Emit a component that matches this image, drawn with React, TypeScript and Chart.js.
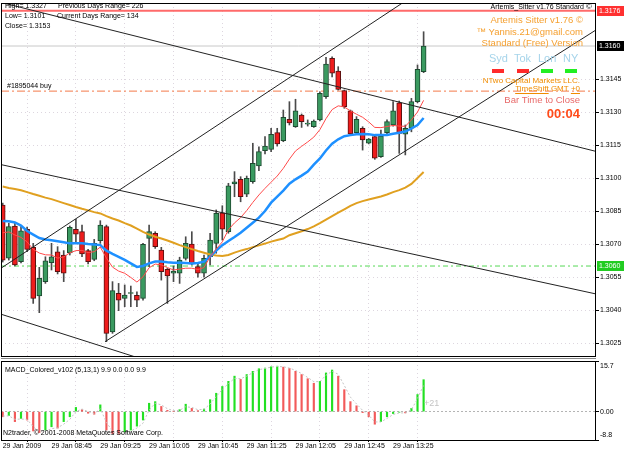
import React, { useEffect, useRef } from 'react';
import { Chart, registerables } from 'chart.js';
Chart.register(...registerables);

const FONT = '"Liberation Sans", Arial, sans-serif';

const timeLabels = ['29 Jan 2009', '29 Jan 08:45', '29 Jan 09:25', '29 Jan 10:05', '29 Jan 10:45', '29 Jan 11:25', '29 Jan 12:05', '29 Jan 12:45', '29 Jan 13:25'];
const timeLabelBars = [0, 8, 16, 24, 32, 40, 48, 56, 64];

const opens = [1.30877, 1.30636, 1.30782, 1.30620, 1.30767, 1.30685, 1.30464, 1.30529, 1.30615, 1.30665, 1.30650, 1.30660, 1.30767, 1.30756, 1.30670, 1.30630, 1.30715, 1.30779, 1.30301, 1.30476, 1.30453, 1.30475, 1.30467, 1.30453, 1.30726, 1.30749, 1.30673, 1.30585, 1.30567, 1.30567, 1.30635, 1.30700, 1.30597, 1.30567, 1.30642, 1.30703, 1.30842, 1.30756, 1.30973, 1.30994, 1.30927, 1.30983, 1.31055, 1.31124, 1.31130, 1.31206, 1.31170, 1.31267, 1.31233, 1.31286, 1.31245, 1.31233, 1.31264, 1.31370, 1.31544, 1.31486, 1.31397, 1.31305, 1.31206, 1.31226, 1.31158, 1.31188, 1.31097, 1.31206, 1.31241, 1.31342, 1.31199, 1.31226, 1.31347, 1.31483];
const highs = [1.30886, 1.30795, 1.30797, 1.30779, 1.30777, 1.30703, 1.30594, 1.30642, 1.30703, 1.30688, 1.30670, 1.30782, 1.30812, 1.30786, 1.30676, 1.30721, 1.30806, 1.30786, 1.30529, 1.30521, 1.30514, 1.30509, 1.30483, 1.30703, 1.30786, 1.30756, 1.30685, 1.30589, 1.30600, 1.30640, 1.30733, 1.30756, 1.30609, 1.30650, 1.30749, 1.30855, 1.30874, 1.30976, 1.31029, 1.31006, 1.31009, 1.31158, 1.31142, 1.31188, 1.31226, 1.31226, 1.31309, 1.31347, 1.31358, 1.31291, 1.31264, 1.31264, 1.31392, 1.31549, 1.31551, 1.31506, 1.31400, 1.31309, 1.31279, 1.31233, 1.31180, 1.31195, 1.31218, 1.31264, 1.31347, 1.31350, 1.31241, 1.31362, 1.31514, 1.31665];
const lows = [1.30618, 1.30627, 1.30600, 1.30614, 1.30665, 1.30430, 1.30388, 1.30521, 1.30582, 1.30564, 1.30529, 1.30650, 1.30706, 1.30642, 1.30609, 1.30624, 1.30703, 1.30256, 1.30294, 1.30397, 1.30415, 1.30415, 1.30415, 1.30445, 1.30597, 1.30680, 1.30536, 1.30430, 1.30529, 1.30521, 1.30627, 1.30605, 1.30549, 1.30549, 1.30605, 1.30658, 1.30718, 1.30749, 1.30915, 1.30892, 1.30915, 1.30976, 1.31033, 1.31109, 1.31120, 1.31145, 1.31165, 1.31241, 1.31230, 1.31230, 1.31236, 1.31230, 1.31259, 1.31362, 1.31460, 1.31400, 1.31317, 1.31195, 1.31203, 1.31127, 1.31155, 1.31085, 1.31094, 1.31200, 1.31236, 1.31112, 1.31105, 1.31210, 1.31342, 1.31479];
const closes = [1.30627, 1.30779, 1.30605, 1.30760, 1.30676, 1.30453, 1.30544, 1.30624, 1.30642, 1.30574, 1.30567, 1.30776, 1.30745, 1.30655, 1.30620, 1.30703, 1.30786, 1.30294, 1.30488, 1.30445, 1.30468, 1.30476, 1.30445, 1.30699, 1.30756, 1.30688, 1.30574, 1.30555, 1.30577, 1.30627, 1.30703, 1.30609, 1.30567, 1.30635, 1.30718, 1.30840, 1.30767, 1.30965, 1.30983, 1.30915, 1.30999, 1.31067, 1.31120, 1.31145, 1.31199, 1.31155, 1.31276, 1.31250, 1.31305, 1.31256, 1.31246, 1.31259, 1.31385, 1.31518, 1.31476, 1.31403, 1.31324, 1.31200, 1.31267, 1.31173, 1.31177, 1.31090, 1.31191, 1.31256, 1.31305, 1.31203, 1.31226, 1.31347, 1.31494, 1.31600];

const maFast = [1.30751, 1.30755, 1.30741, 1.30730, 1.30710, 1.30676, 1.30659, 1.30651, 1.30650, 1.30636, 1.30641, 1.30660, 1.30670, 1.30671, 1.30661, 1.30665, 1.30686, 1.30636, 1.30595, 1.30577, 1.30567, 1.30548, 1.30527, 1.30551, 1.30592, 1.30609, 1.30605, 1.30593, 1.30582, 1.30586, 1.30590, 1.30590, 1.30584, 1.30593, 1.30642, 1.30677, 1.30710, 1.30765, 1.30796, 1.30820, 1.30852, 1.30889, 1.30923, 1.30953, 1.30981, 1.31009, 1.31044, 1.31086, 1.31123, 1.31144, 1.31164, 1.31186, 1.31220, 1.31270, 1.31311, 1.31328, 1.31323, 1.31305, 1.31290, 1.31276, 1.31255, 1.31230, 1.31229, 1.31234, 1.31239, 1.31236, 1.31235, 1.31264, 1.31300, 1.31353];
const maMid = [1.30805, 1.30803, 1.30798, 1.30784, 1.30759, 1.30743, 1.30727, 1.30721, 1.30717, 1.30713, 1.30708, 1.30703, 1.30703, 1.30703, 1.30700, 1.30698, 1.30695, 1.30670, 1.30655, 1.30642, 1.30628, 1.30612, 1.30596, 1.30600, 1.30612, 1.30620, 1.30620, 1.30617, 1.30615, 1.30615, 1.30614, 1.30612, 1.30614, 1.30620, 1.30643, 1.30670, 1.30695, 1.30714, 1.30732, 1.30751, 1.30774, 1.30797, 1.30820, 1.30850, 1.30888, 1.30915, 1.30943, 1.30974, 1.30994, 1.31011, 1.31029, 1.31061, 1.31089, 1.31125, 1.31156, 1.31176, 1.31190, 1.31195, 1.31199, 1.31200, 1.31199, 1.31195, 1.31195, 1.31196, 1.31201, 1.31206, 1.31211, 1.31225, 1.31241, 1.31273];
const maSlow = [1.30961, 1.30955, 1.30950, 1.30944, 1.30936, 1.30927, 1.30919, 1.30911, 1.30904, 1.30895, 1.30886, 1.30877, 1.30868, 1.30860, 1.30853, 1.30845, 1.30839, 1.30827, 1.30816, 1.30807, 1.30795, 1.30784, 1.30770, 1.30755, 1.30743, 1.30733, 1.30725, 1.30716, 1.30706, 1.30695, 1.30686, 1.30677, 1.30668, 1.30660, 1.30652, 1.30648, 1.30646, 1.30650, 1.30661, 1.30670, 1.30677, 1.30686, 1.30694, 1.30702, 1.30711, 1.30718, 1.30725, 1.30740, 1.30749, 1.30758, 1.30768, 1.30780, 1.30795, 1.30811, 1.30827, 1.30843, 1.30858, 1.30873, 1.30886, 1.30895, 1.30902, 1.30909, 1.30916, 1.30925, 1.30936, 1.30945, 1.30956, 1.30973, 1.31000, 1.31027];

const priceTicks = [1.3025, 1.3040, 1.3055, 1.3070, 1.3085, 1.3100, 1.3115, 1.3130, 1.3145];
const markerValues = [1.3176, 1.3160, 1.3060];
const markerLabels = ['1.3176', '1.3160', '1.3060'];

const levelDayHigh = 1.3176;
const levelBid = 1.3160;
const levelOrder = 1.31395;
const levelSupport = 1.3060;

const trendUpperRise = [{ x: -0.28, y: 1.30590 }, { x: 65.5, y: 1.31795 }];
const trendLowerRise = [{ x: 16.77, y: 1.30256 }, { x: 97.26, y: 1.31673 }];
const trendTopFall = [{ x: -0.28, y: 1.31798 }, { x: 97.26, y: 1.31121 }];
const trendMidFall = [{ x: -0.28, y: 1.31061 }, { x: 97.26, y: 1.30473 }];
const trendLowFall = [{ x: -0.28, y: 1.30381 }, { x: 22.5, y: 1.30180 }];

const macdHist = [-1.6, -1.2, -3.1, -2.1, -2.6, -6.0, -6.5, -5.7, -4.7, -5.1, -3.1, -1.6, 1.3, 0.6, -0.5, -0.8, 2.1, -5.7, -6.8, -7.0, -6.3, -5.7, -4.5, -2.6, 2.6, 3.1, 1.6, 0.4, 0.1, 0.6, 2.3, 1.0, 0.3, 0.8, 3.7, 5.7, 7.8, 9.4, 11.0, 10.0, 11.5, 12.5, 13.3, 13.5, 13.9, 14.1, 13.8, 13.4, 12.5, 11.5, 10.2, 8.8, 9.4, 12.0, 12.9, 11.0, 6.8, 3.1, 1.8, -0.3, -1.6, -3.9, -3.1, -1.6, -0.6, -0.2, -0.4, 1.0, 5.3, 9.9];
const macdSignal = [-1.4, -1.3, -2.4, -2.3, -2.4, -4.7, -6.1, -6.0, -5.3, -5.0, -3.9, -2.4, 0.0, 0.8, 0.0, -0.6, 0.9, -3.3, -6.1, -6.9, -6.6, -6.0, -5.1, -3.6, 0.5, 2.6, 2.1, 0.9, 0.3, 0.4, 1.5, 1.3, 0.6, 0.7, 2.4, 4.7, 6.9, 8.7, 10.3, 10.2, 11.0, 12.1, 13.0, 13.4, 13.8, 14.0, 13.9, 13.5, 12.8, 11.8, 10.6, 9.3, 9.3, 11.3, 12.5, 11.6, 8.1, 4.5, 2.4, 0.4, -1.1, -3.2, -3.2, -2.1, -0.9, -0.4, -0.4, 0.6, 4.0, 8.3];
const macdTickValues = [15.7, 0, -8.8];
const macdTickLabels = ['15.7', '0.00', '-8.8'];

const X_MIN = -0.28;
const X_MAX = 97.26;

function txt(ctx: CanvasRenderingContext2D, s: string, x: number, y: number, size = 7, color = '#000', align: CanvasTextAlign = 'left', weight = 'normal') {
  ctx.font = `${weight} ${size}px ${FONT}`;
  ctx.fillStyle = color;
  ctx.textAlign = align;
  ctx.textBaseline = 'middle';
  ctx.fillText(s, x, y);
}

const mainPlugin = {
  id: 'mainDecor',
  afterDraw(chart: any) {
    const { ctx, chartArea: a, scales } = chart;
    ctx.save();
    ctx.strokeStyle = '#000';
    ctx.lineWidth = 1;
    ctx.strokeRect(a.left + 0.5, a.top + 0.5, a.right - a.left - 1, a.bottom - a.top);
    // price markers on the axis
    const bgs = ['#ff3030', '#000000', '#22cc22'];
    markerValues.forEach((v, i) => {
      const y = Math.round(scales.y.getPixelForValue(v));
      ctx.fillStyle = bgs[i];
      ctx.fillRect(a.right + 1, y - 5, 27, 10);
      txt(ctx, markerLabels[i], a.right + 3, y, 7, '#fff');
    });
    // top-left info
    txt(ctx, 'High= 1.3327', 5, 6);
    txt(ctx, 'Previous Days Range= 226', 58, 6);
    txt(ctx, 'Low= 1.3101', 5, 16);
    txt(ctx, 'Current Days Range= 134', 57, 16);
    txt(ctx, 'Close= 1.3153', 5, 26);
    txt(ctx, '#1895044 buy', 7, 86);
    // right info block
    txt(ctx, 'Artemis_Sitter v1.76 Standard', 584, 7, 7, '#000', 'right');
    txt(ctx, '©', 586, 7, 8, '#000', 'left');
    const orange = '#f5a030';
    txt(ctx, 'Artemis Sitter v1.76 ©', 583, 20, 9.5, orange, 'right');
    txt(ctx, '™ Yannis.21@gmail.com', 583, 32, 9.5, orange, 'right');
    txt(ctx, 'Standard (Free) Version', 583, 43, 9.5, orange, 'right');
    const blue = '#a6d4ea';
    txt(ctx, 'Syd', 489, 59, 11, blue);
    txt(ctx, 'Tok', 514, 59, 11, blue);
    txt(ctx, 'Lon', 538, 59, 11, blue);
    txt(ctx, 'NY', 563, 59, 11, blue);
    ctx.fillStyle = '#ff2a2a';
    ctx.fillRect(492, 69, 12, 4);
    ctx.fillRect(517, 69, 12, 4);
    ctx.fillStyle = '#22ee22';
    ctx.fillRect(541, 69, 12, 4);
    ctx.fillRect(565, 69, 12, 4);
    txt(ctx, 'NTwo Capital Markets LLC.', 580, 81, 8, '#f08c00', 'right');
    txt(ctx, 'TimeShift GMT +0', 580, 89, 8, '#f08c00', 'right');
    ctx.font = `normal 8px ${FONT}`;
    const wAll = ctx.measureText('TimeShift GMT +0').width;
    const wTS = ctx.measureText('TimeShift').width;
    const wP = ctx.measureText('+0').width;
    ctx.fillStyle = '#f08c00';
    ctx.fillRect(580 - wAll, 93, wTS, 1);
    ctx.fillRect(580 - wP, 93, wP, 1);
    txt(ctx, 'Bar Time to Close', 580, 100, 9.5, '#e86a6a', 'right');
    txt(ctx, '00:04', 580, 114, 13, '#ff4b1a', 'right', 'bold');
    ctx.restore();
  },
};

const macdPlugin = {
  id: 'macdDecor',
  beforeDraw(chart: any) {
    try {
      const items = chart.scales.y.getLabelItems(chart.chartArea);
      if (items && items.length === 3 && !chart.$shifted) {
        items[0].options.translation[1] += 5;
        items[2].options.translation[1] -= 5;
        chart.$shifted = true;
      }
    } catch (e) { /* ignore */ }
  },
  afterDraw(chart: any) {
    const { ctx, chartArea: a } = chart;
    ctx.save();
    ctx.strokeStyle = '#000';
    ctx.lineWidth = 1;
    ctx.strokeRect(a.left + 0.5, a.top + 0.5, a.right - a.left - 1, a.bottom - a.top);
    ctx.strokeStyle = '#888';
    ctx.beginPath();
    ctx.moveTo(a.left, 0.5);
    ctx.lineTo(a.right, 0.5);
    ctx.stroke();
    txt(ctx, 'MACD_Colored_v102 (5,13,1) 9.9 0.0 0.0 9.9', 5, 12);
    txt(ctx, 'N2trader, © 2001-2008 MetaQuotes Software Corp.', 3, 75);
    txt(ctx, '+21', 424, 46, 9, '#c4c4c4');
    ctx.restore();
  },
};

function lineDs(data: any[], color: string, width: number, order: number, dash: number[] = []) {
  return {
    type: 'line' as const,
    data,
    borderColor: color,
    borderWidth: width,
    borderDash: dash,
    pointRadius: 0,
    tension: 0,
    fill: false,
    order,
    clip: 0,
  };
}

function level(v: number) {
  return [{ x: X_MIN, y: v }, { x: X_MAX, y: v }];
}

export default function App() {
  const mainRef = useRef<HTMLCanvasElement>(null);
  const macdRef = useRef<HTMLCanvasElement>(null);

  useEffect(() => {
    document.body.style.margin = '0';
    const up = opens.map((o, i) => closes[i] >= o);
    const gridColor = '#ddd6df';

    const main = new Chart(mainRef.current as HTMLCanvasElement, {
      type: 'bar',
      data: {
        datasets: [
          lineDs(level(levelDayHigh), '#ff6a6a', 2, 9) as any,
          lineDs(level(levelBid), '#c8c8c8', 1, 9) as any,
          lineDs(level(levelOrder), '#f37a4a', 1, 9, [8, 3, 2, 3]) as any,
          lineDs(level(levelSupport), '#55d855', 1, 9, [5, 3, 2, 3]) as any,
          {
            type: 'bar',
            data: opens.map((_, i) => ({ x: i, y: [lows[i], highs[i]] })),
            backgroundColor: '#4a4a4a',
            barThickness: 1,
            grouped: false,
            order: 6,
          } as any,
          {
            type: 'bar',
            data: opens.map((o, i) => ({ x: i, y: [o, closes[i]] })),
            backgroundColor: up.map((u) => (u ? '#3a9a60' : '#ee1c1c')),
            borderColor: up.map((u) => (u ? '#1d4a30' : '#5a1010')),
            borderWidth: 1,
            borderSkipped: false,
            barThickness: 5,
            minBarLength: 1,
            grouped: false,
            order: 5,
          } as any,
          lineDs(maSlow.map((v, i) => ({ x: i, y: v })), '#e0a020', 2, 3) as any,
          lineDs(maMid.map((v, i) => ({ x: i, y: v })), '#1e90ff', 2.5, 2) as any,
          lineDs(maFast.map((v, i) => ({ x: i, y: v })), '#ff4a4a', 1, 1) as any,
          lineDs(trendUpperRise, '#222', 1, 0) as any,
          lineDs(trendLowerRise, '#222', 1, 0) as any,
          lineDs(trendTopFall, '#222', 1, 0) as any,
          lineDs(trendMidFall, '#222', 1, 0) as any,
          lineDs(trendLowFall, '#222', 1, 0) as any,
        ],
      },
      options: {
        animation: false,
        responsive: false,
        maintainAspectRatio: false,
        layout: { padding: { left: 1, top: 3, right: 0, bottom: 2 } },
        plugins: { legend: { display: false }, tooltip: { enabled: false } },
        scales: {
          x: {
            type: 'linear',
            min: X_MIN,
            max: X_MAX,
            offset: false,
            afterBuildTicks: (s: any) => { s.ticks = timeLabelBars.map((v) => ({ value: v })); },
            ticks: { display: false },
            grid: { color: gridColor, drawTicks: false },
            border: { display: false, dash: [1, 3] },
            afterFit: (s: any) => { s.height = 0; s.paddingLeft = 0; s.paddingRight = 0; },
          },
          y: {
            position: 'right',
            min: 1.30191,
            max: 1.317955,
            afterBuildTicks: (s: any) => { s.ticks = priceTicks.map((v) => ({ value: v })); },
            ticks: {
              font: { size: 7, family: FONT },
              color: '#000',
              padding: 1,
              callback: (v: any) => Number(v).toFixed(4),
            },
            grid: { color: gridColor, tickColor: '#000', tickLength: 3, tickBorderDash: [] },
            border: { display: false, dash: [1, 3] },
            afterFit: (s: any) => { s.width = 29; s.paddingTop = 0; s.paddingBottom = 0; },
          },
        },
      } as any,
      plugins: [mainPlugin],
    });

    const macdColors = macdHist.map((v, i) => (i > 0 && v > macdHist[i - 1] ? '#22e022' : '#f25a5a'));
    const macd = new Chart(macdRef.current as HTMLCanvasElement, {
      type: 'bar',
      data: {
        datasets: [
          {
            type: 'bar',
            data: macdHist.map((v, i) => ({ x: i, y: v })),
            backgroundColor: macdColors,
            barThickness: 1.5,
            grouped: false,
            order: 2,
          } as any,
          lineDs(macdSignal.map((v, i) => ({ x: i, y: v })), '#c4c4c4', 1, 1, [2, 2]) as any,
        ],
      },
      options: {
        animation: false,
        responsive: false,
        maintainAspectRatio: false,
        layout: { padding: { left: 1, top: 3, right: 0, bottom: 0 } },
        plugins: { legend: { display: false }, tooltip: { enabled: false } },
        scales: {
          x: {
            type: 'linear',
            min: X_MIN,
            max: X_MAX,
            offset: false,
            afterBuildTicks: (s: any) => { s.ticks = timeLabelBars.map((v) => ({ value: v })); },
            ticks: {
              font: { size: 7, family: FONT },
              color: '#000',
              padding: 0,
              align: 'start',
              autoSkip: false,
              maxRotation: 0,
              callback: (_v: any, idx: number) => timeLabels[idx],
            },
            grid: { color: gridColor, tickColor: '#000', tickLength: 2, tickBorderDash: [] },
            border: { display: false, dash: [1, 3] },
            afterFit: (s: any) => { s.height = 12; s.paddingLeft = 0; s.paddingRight = 0; },
          },
          y: {
            position: 'right',
            min: -8.8,
            max: 15.7,
            afterBuildTicks: (s: any) => { s.ticks = macdTickValues.map((v) => ({ value: v })); },
            ticks: {
              font: { size: 7, family: FONT },
              color: '#000',
              padding: 1,
              callback: (_v: any, idx: number) => macdTickLabels[idx],
            },
            grid: { color: '#b4b4b4', tickColor: '#000', tickLength: 3, tickBorderDash: [] },
            border: { display: false, dash: [2, 2] },
            afterFit: (s: any) => { s.width = 29; s.paddingTop = 0; s.paddingBottom = 0; },
          },
        },
      } as any,
      plugins: [macdPlugin],
    });

    return () => {
      main.destroy();
      macd.destroy();
    };
  }, []);

  return (
    <div style={{ position: 'relative', width: 625, height: 452, background: '#fff' }}>
      <canvas ref={mainRef} width={625} height={358} style={{ position: 'absolute', left: 0, top: 0, width: 625, height: 358 }} />
      <canvas ref={macdRef} width={625} height={94} style={{ position: 'absolute', left: 0, top: 358, width: 625, height: 94 }} />
    </div>
  );
}
